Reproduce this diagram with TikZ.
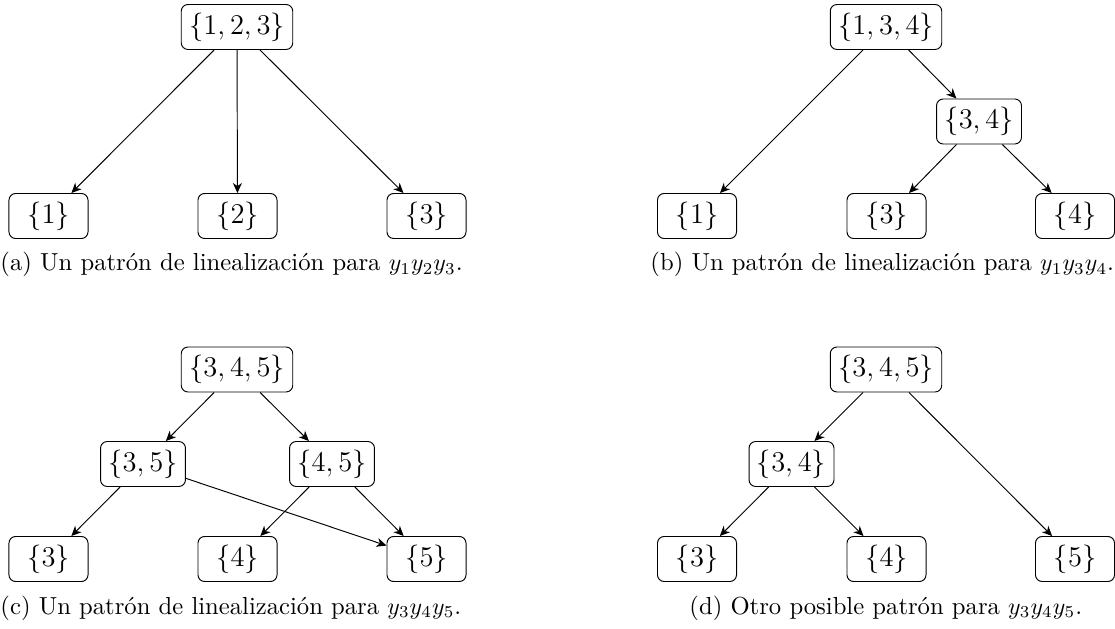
\documentclass[tikz,border=0pt]{standalone}
\usetikzlibrary{arrows.meta}
\begin{document}
\begin{tikzpicture}[x=0.42pt,y=-0.42pt,
  setnode/.style={draw, rounded corners=2.8pt, minimum width=33.2pt, minimum height=18.9pt, font=\large, inner sep=3.33pt},
  edge/.style={-{Stealth[length=4.2pt,width=3.8pt,inset=1.3pt]}, line width=0.4pt},
  captext/.style={anchor=base west, inner sep=0pt, font=\fontsize{10.35}{12.7}\selectfont}]
\useasboundingbox (0,0) rectangle (1115,629);
% (a)
\node[setnode] (a123) at (237,27) {$\{1,2,3\}$};
\node[setnode] (a1) at (48.5,216) {$\{1\}$};
\node[setnode] (a2) at (237.5,216) {$\{2\}$};
\node[setnode] (a3) at (426.5,216) {$\{3\}$};
\draw[edge] (a123) -- (a1);
\draw[edge] (a123) -- (a2);
\draw[edge] (a123) -- (a3);
\node[captext] (capa) at (0,271) {(a) Un patrón de linealización para $y_1y_2y_3$.};
% (b)
\node[setnode] (b134) at (886,27) {$\{1,3,4\}$};
\node[setnode] (b34) at (979,121.5) {$\{3,4\}$};
\node[setnode] (b1) at (697,216) {$\{1\}$};
\node[setnode] (b3) at (886.5,216) {$\{3\}$};
\node[setnode] (b4) at (1075,216) {$\{4\}$};
\draw[edge] (b134) -- (b1);
\draw[edge] (b134) -- (b34);
\draw[edge] (b34) -- (b3);
\draw[edge] (b34) -- (b4);
\node[captext] (capb) at (650,271) {(b) Un patrón de linealización para $y_1y_3y_4$.};
% (c)
\node[setnode] (c345) at (237,369.5) {$\{3,4,5\}$};
\node[setnode] (c35) at (143,464) {$\{3,5\}$};
\node[setnode] (c45) at (332,464) {$\{4,5\}$};
\node[setnode] (c3) at (48.5,559) {$\{3\}$};
\node[setnode] (c4) at (237.5,559) {$\{4\}$};
\node[setnode] (c5) at (426.5,559) {$\{5\}$};
\draw[edge] (c345) -- (c35);
\draw[edge] (c345) -- (c45);
\draw[edge] (c35) -- (c3);
\draw[edge] (c35) -- (c5);
\draw[edge] (c45) -- (c4);
\draw[edge] (c45) -- (c5);
\node[captext] (capc) at (0,614) {(c) Un patrón de linealización para $y_3y_4y_5$.};
% (d)
\node[setnode] (d345) at (886,369.5) {$\{3,4,5\}$};
\node[setnode] (d34) at (791.5,464) {$\{3,4\}$};
\node[setnode] (d3) at (697,559) {$\{3\}$};
\node[setnode] (d4) at (886.5,559) {$\{4\}$};
\node[setnode] (d5) at (1075,559) {$\{5\}$};
\draw[edge] (d345) -- (d34);
\draw[edge] (d345) -- (d5);
\draw[edge] (d34) -- (d3);
\draw[edge] (d34) -- (d4);
\node[captext] (capd) at (689,614) {(d) Otro posible patrón para $y_3y_4y_5$.};
\end{tikzpicture}
\end{document}
